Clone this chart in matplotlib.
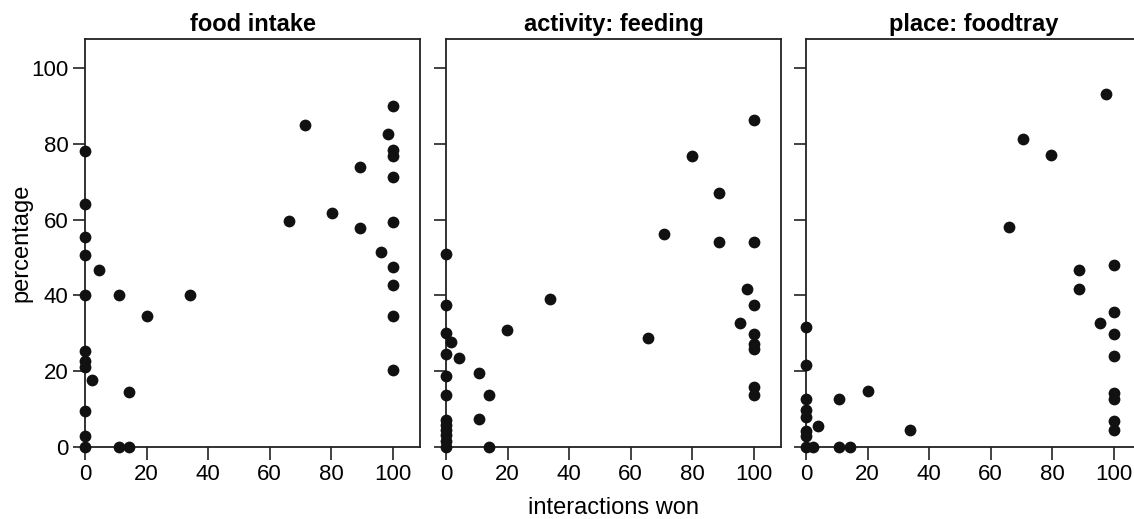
import numpy as np
import matplotlib
matplotlib.use("Agg")
import matplotlib.pyplot as plt

plt.rcParams['font.family'] = ['Liberation Sans', 'DejaVu Sans']

titles = ["food intake", "activity: feeding", "place: foodtray"]

# food intake
x1 = [0, 0, 0, 0, 0, 0, 0, 0, 0, 0, 0, 4.4, 2.2, 11.2, 10.9, 14.3, 14.2, 20.2, 34.2,
      71.4, 66.2, 80.3, 89.5, 89.5, 96.3, 98.4, 100, 100, 100, 100, 100, 100, 100, 100, 100]
y1 = [78.1, 64.2, 55.5, 50.6, 40, 25.4, 22.6, 21.0, 9.5, 2.8, 0, 46.8, 17.8, 40, 0, 0, 14.6, 34.6, 40,
      85.1, 59.7, 61.8, 73.9, 57.7, 51.5, 82.7, 89.9, 78.5, 76.8, 71.3, 59.5, 47.6, 42.7, 34.5, 20.4]

# activity: feeding
x2 = [0, 0, 0, 0, 0, 0, 0, 0, 0, 0, 0, 0, 1.7, 4.1, 10.8, 10.8, 14.1, 14.1, 19.9, 33.9,
      65.8, 71.0, 79.9, 88.8, 88.8, 97.7, 95.7, 100, 100, 100, 100, 100, 100, 100, 100]
y2 = [50.9, 37.6, 30.1, 24.6, 18.7, 13.6, 7.0, 5.7, 4.4, 3.1, 1.6, 0, 27.7, 23.6, 19.5, 7.5, 13.7, 0, 30.8, 39.0,
      28.9, 56.2, 76.9, 67.0, 54.0, 41.8, 32.8, 86.3, 54.0, 37.6, 29.9, 27.3, 26.0, 15.8, 13.6]

# place: foodtray
x3 = [0, 0, 0, 0, 0, 0, 0, 0, 2.2, 4.0, 10.8, 10.8, 14.3, 20.0, 33.8,
      66.1, 70.7, 79.8, 88.9, 88.9, 95.7, 97.6, 100, 100, 100, 100, 100, 100, 100, 100]
y3 = [31.7, 21.6, 12.6, 9.7, 7.9, 4.1, 2.9, 0, 0, 5.5, 12.7, 0, 0, 14.9, 4.5,
      58.0, 81.2, 77.1, 46.8, 41.8, 32.7, 93.3, 48.1, 35.7, 29.8, 24.1, 14.3, 12.8, 6.9, 4.4]

xs = [x1, x2, x3]
ys = [y1, y2, y3]

fig = plt.figure(figsize=(11.34, 5.19), dpi=100)
lefts = [85, 446, 806]
axes = []
for i in range(3):
    ax = fig.add_axes([lefts[i] / 1134, 1 - 447 / 519, 335 / 1134, 408 / 519])
    ax.scatter(xs[i], ys[i], s=72, color="#111111", clip_on=False, zorder=3, linewidths=0)
    ax.set_xlim(0, 108.9)
    ax.set_ylim(0, 107.7)
    ax.set_xticks([0, 20, 40, 60, 80, 100])
    ax.set_yticks([0, 20, 40, 60, 80, 100])
    ax.tick_params(direction="out", length=9, width=1.2, labelsize=16, color="#222222", pad=3)
    for s in ax.spines.values():
        s.set_linewidth(1.3)
        s.set_color("#222222")
    ax.set_title(titles[i], fontsize=17, fontweight="bold", pad=6)
    if i > 0:
        ax.set_yticklabels([])
    axes.append(ax)

axes[0].set_ylabel("percentage", fontsize=17, labelpad=-1)
axes[1].set_xlabel("interactions won", fontsize=17, labelpad=9)

plt.savefig("out.png", dpi=100)
